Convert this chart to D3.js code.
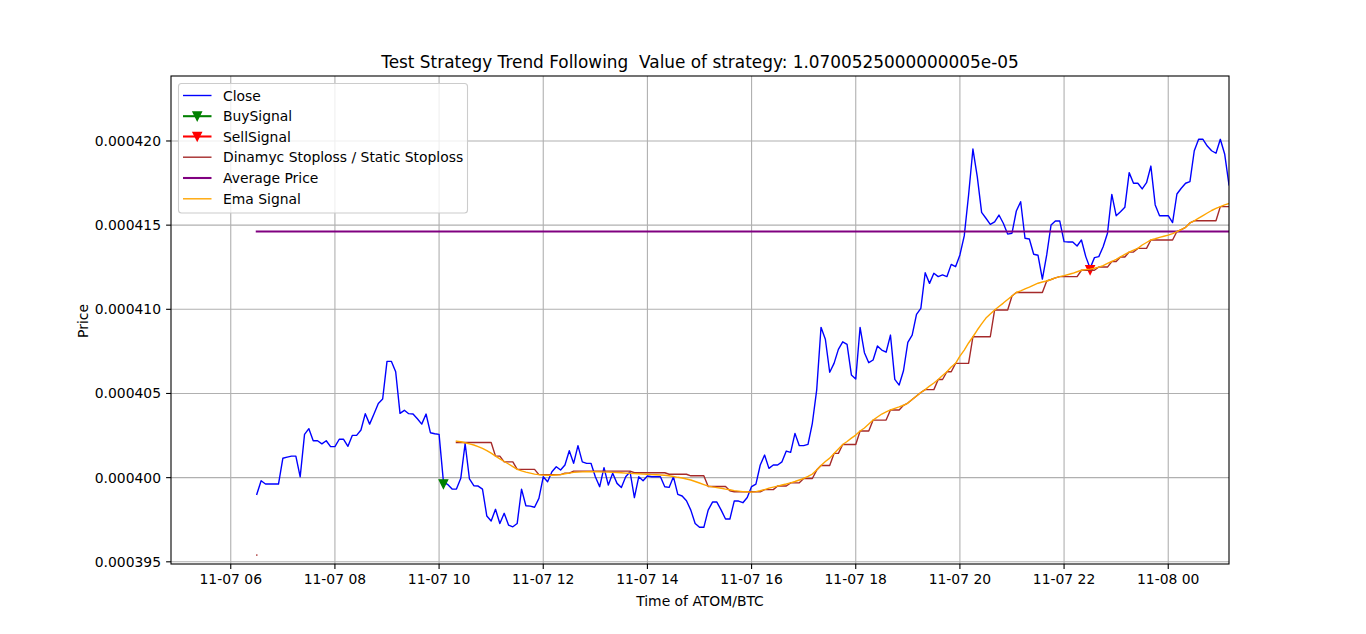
<!DOCTYPE html>
<html><head><meta charset="utf-8">
<script src="https://cdn.jsdelivr.net/npm/d3@7"></script>
<style>
body{margin:0;background:#fff;}
text{font-family:"DejaVu Sans",sans-serif;fill:#000;}
</style></head><body>
<svg id="chart" width="1366" height="634"></svg>
<script>
// ---- data (prices in units of 1e-6 BTC) ----
const startTime = Date.UTC(2019, 10, 7, 6, 30);
const stepMinutes = 5;
const close = [
 399.01, 399.82, 399.62, 399.62, 399.62, 399.62, 401.15, 401.22, 401.28, 401.28,
 400.05, 402.57, 402.91, 402.19, 402.19, 402.01, 402.19, 401.84, 401.84, 402.28,
 402.28, 401.86, 402.51, 402.51, 402.83, 403.80, 403.18, 403.78, 404.41, 404.67,
 406.91, 406.91, 406.29, 403.82, 404.00, 403.80, 403.78, 403.50, 403.18, 403.78,
 402.67, 402.61, 402.57, 399.76, 399.59, 399.32, 399.32, 399.96, 402.03, 399.92,
 399.52, 399.50, 399.32, 397.72, 397.42, 398.12, 397.28, 397.88, 397.18, 397.08,
 397.28, 399.32, 398.33, 398.31, 398.24, 398.77, 400.05, 399.76, 400.35, 400.65,
 400.45, 400.75, 401.60, 400.85, 401.90, 400.94, 400.85, 400.85, 400.05, 399.46,
 400.59, 399.56, 400.26, 399.66, 399.42, 400.05, 400.35, 398.81, 400.05, 399.82,
 400.10, 400.05, 400.05, 400.05, 399.46, 399.42, 400.05, 399.01, 398.91, 398.63,
 398.07, 397.28, 397.05, 397.05, 398.07, 398.55, 398.55, 398.07, 397.54, 397.54,
 398.61, 398.61, 398.51, 398.82, 399.47, 399.62, 400.75, 401.34, 400.55, 400.75,
 400.75, 400.94, 401.58, 401.50, 402.63, 401.90, 401.90, 401.98, 403.23, 405.20,
 408.93, 408.22, 406.26, 406.79, 407.62, 408.07, 407.92, 406.10, 405.86, 408.93,
 407.42, 406.83, 406.99, 407.82, 407.58, 407.45, 408.47, 405.84, 405.50, 406.35,
 408.03, 408.47, 409.70, 410.06, 412.17, 411.54, 412.14, 411.94, 412.04, 411.94,
 412.67, 412.53, 413.23, 414.36, 416.79, 419.52, 417.88, 415.76, 415.41, 415.05,
 415.20, 415.60, 415.11, 414.47, 414.52, 415.84, 416.39, 414.22, 414.18, 413.27,
 413.21, 411.80, 413.23, 415.01, 415.25, 415.25, 414.02, 414.00, 414.00, 413.76,
 414.12, 413.13, 412.44, 413.07, 413.13, 413.72, 414.52, 416.83, 415.56, 415.80,
 416.06, 418.12, 417.49, 417.49, 417.15, 417.52, 418.51, 416.20, 415.56, 415.56,
 415.56, 415.15, 416.85, 417.19, 417.49, 417.58, 419.42, 420.10, 420.10, 419.70,
 419.42, 419.27, 420.10, 419.23, 417.39
];
const emaStart = 46;
const ema = [
 402.17, 402.13, 402.07, 402.01, 401.94, 401.84, 401.74, 401.61, 401.46, 401.28,
 401.12, 400.96, 400.81, 400.65, 400.49, 400.40, 400.33, 400.27, 400.21, 400.18,
 400.15, 400.14, 400.14, 400.16, 400.18, 400.23, 400.27, 400.31, 400.33, 400.34,
 400.35, 400.35, 400.35, 400.34, 400.33, 400.33, 400.31, 400.30, 400.29, 400.27,
 400.26, 400.24, 400.23, 400.21, 400.20, 400.18, 400.17, 400.16, 400.14, 400.11,
 400.07, 400.02, 399.98, 399.92, 399.86, 399.77, 399.68, 399.59, 399.50, 399.45,
 399.41, 399.37, 399.32, 399.28, 399.23, 399.20, 399.17, 399.16, 399.14, 399.17,
 399.22, 399.29, 399.38, 399.44, 399.50, 399.56, 399.62, 399.69, 399.77, 399.86,
 399.95, 400.07, 400.21, 400.45, 400.72, 400.96, 401.16, 401.44, 401.70, 401.97,
 402.15, 402.35, 402.53, 402.77, 402.95, 403.19, 403.42, 403.60, 403.78, 403.90,
 404.02, 404.11, 404.20, 404.30, 404.43, 404.64, 404.85, 405.06, 405.23, 405.44,
 405.62, 405.83, 406.07, 406.29, 406.57, 406.79, 407.22, 407.58, 408.00, 408.37,
 408.77, 409.13, 409.48, 409.72, 409.96, 410.17, 410.37, 410.58, 410.79, 411.00,
 411.10, 411.21, 411.32, 411.44, 411.55, 411.62, 411.68, 411.77, 411.87, 411.94,
 412.00, 412.07, 412.14, 412.23, 412.32, 412.36, 412.39, 412.44, 412.51, 412.60,
 412.73, 412.84, 412.97, 413.11, 413.26, 413.40, 413.52, 413.62, 413.82, 413.97,
 414.12, 414.19, 414.27, 414.34, 414.41, 414.50, 414.62, 414.74, 414.87, 415.13,
 415.26, 415.42, 415.57, 415.72, 415.87, 415.99, 416.10, 416.20, 416.29
];
const stoplossStart = 46;
const stoploss = [
 402.09, 402.09, 402.09, 402.09, 402.09, 402.09, 402.09, 402.09, 402.09, 401.28,
 401.28, 400.94, 400.94, 400.94, 400.49, 400.49, 400.49, 400.49, 400.49, 400.18,
 400.18, 400.18, 400.18, 400.18, 400.18, 400.27, 400.27, 400.39, 400.39, 400.39,
 400.39, 400.39, 400.39, 400.39, 400.39, 400.39, 400.39, 400.39, 400.39, 400.39,
 400.39, 400.29, 400.29, 400.29, 400.29, 400.29, 400.29, 400.29, 400.29, 400.20,
 400.20, 400.20, 400.20, 400.20, 400.11, 400.11, 400.11, 400.11, 399.47, 399.47,
 399.47, 399.47, 399.47, 399.22, 399.16, 399.16, 399.16, 399.16, 399.16, 399.16,
 399.16, 399.29, 399.29, 399.29, 399.50, 399.50, 399.50, 399.69, 399.69, 399.69,
 399.95, 399.95, 399.95, 400.45, 400.72, 400.72, 400.72, 401.44, 401.44, 401.97,
 401.97, 401.97, 401.97, 402.77, 402.77, 402.77, 403.42, 403.42, 403.42, 403.42,
 404.02, 404.02, 404.02, 404.30, 404.43, 404.64, 404.85, 405.06, 405.23, 405.23,
 405.23, 405.83, 405.83, 406.29, 406.29, 406.79, 406.79, 406.79, 406.79, 408.37,
 408.37, 408.37, 408.37, 408.37, 409.96, 409.96, 409.96, 409.96, 410.79, 411.00,
 411.00, 411.00, 411.00, 411.00, 411.00, 411.00, 411.68, 411.77, 411.87, 411.94,
 411.94, 411.94, 411.94, 411.94, 412.32, 412.32, 412.32, 412.32, 412.51, 412.51,
 412.51, 412.84, 412.84, 413.11, 413.11, 413.40, 413.40, 413.62, 413.62, 413.62,
 414.12, 414.12, 414.12, 414.12, 414.12, 414.12, 414.62, 414.74, 414.87, 415.13,
 415.26, 415.26, 415.26, 415.26, 415.26, 415.26, 416.10, 416.10, 416.10
];
const stoplossFirstPoint = [{ index: 0, value: 395.40 }];
const buySignal = [{ index: 43, value: 399.62 }];
const sellSignal = [{ index: 192, value: 412.34 }];
const averagePrice = 414.62;

const yTicks = [395, 400, 405, 410, 415, 420];
const yTickLabels = ["0.000395", "0.000400", "0.000405", "0.000410", "0.000415", "0.000420"];
const xTicks = [
  Date.UTC(2019,10,7,6), Date.UTC(2019,10,7,8), Date.UTC(2019,10,7,10), Date.UTC(2019,10,7,12),
  Date.UTC(2019,10,7,14), Date.UTC(2019,10,7,16), Date.UTC(2019,10,7,18), Date.UTC(2019,10,7,20),
  Date.UTC(2019,10,7,22), Date.UTC(2019,10,8,0)
];
const xTickLabels = ["11-07 06","11-07 08","11-07 10","11-07 12","11-07 14","11-07 16","11-07 18","11-07 20","11-07 22","11-08 00"];

const legendItems = [
  { label: "Close", color: "#0000ff", width: 1.39, marker: false },
  { label: "BuySignal", color: "#008000", width: 2.08, marker: true },
  { label: "SellSignal", color: "#ff0000", width: 2.08, marker: true },
  { label: "Dinamyc Stoploss / Static Stoploss", color: "#a52a2a", width: 1.39, marker: false },
  { label: "Average Price", color: "#800080", width: 2.08, marker: false },
  { label: "Ema Signal", color: "#ffa500", width: 1.39, marker: false }
];

// ---- layout ----
const L = 171, R = 1229, T = 76, B = 564;
const timeOf = i => startTime + i * stepMinutes * 60000;

const svg = d3.select("#chart");
const x = d3.scaleUtc()
  .domain([Date.UTC(2019,10,7,4,51,10), Date.UTC(2019,10,8,1,10)])
  .range([L, R]);
const y = d3.scaleLinear().domain([394.87, 423.86]).range([B, T]);

// grid
const grid = svg.append("g");
grid.selectAll("line.gx").data(xTicks).enter().append("line")
  .attr("x1", d => x(d)).attr("x2", d => x(d)).attr("y1", T).attr("y2", B)
  .attr("stroke", "#b0b0b0").attr("stroke-width", 1.1);
grid.selectAll("line.gy").data(yTicks).enter().append("line")
  .attr("y1", d => y(d)).attr("y2", d => y(d)).attr("x1", L).attr("x2", R)
  .attr("stroke", "#b0b0b0").attr("stroke-width", 1.1);

svg.append("clipPath").attr("id", "clip").append("rect")
  .attr("x", L).attr("y", T).attr("width", R - L).attr("height", B - T);
const plot = svg.append("g").attr("clip-path", "url(#clip)");

const lineGen = d3.line().x(d => x(d.t)).y(d => y(d.v));

const closeData = close.map((v, i) => ({ t: timeOf(i), v }));
const emaData = ema.map((v, i) => ({ t: timeOf(i + emaStart), v }));
const slData = stoploss.map((v, i) => ({ t: timeOf(i + stoplossStart), v }));
const avgData = [{ t: timeOf(0), v: averagePrice }, { t: timeOf(close.length - 1), v: averagePrice }];

function drawLine(data, color, w) {
  plot.append("path").datum(data).attr("d", lineGen)
    .attr("fill", "none").attr("stroke", color).attr("stroke-width", w)
    .attr("stroke-linejoin", "round").attr("stroke-linecap", "square");
}
drawLine(closeData, "#0000ff", 1.39);
// markers
const tri = 4.17;
const triPath = `M${-tri},${-tri}L${tri},${-tri}L0,${tri}Z`;
function drawMarkers(sig, color) {
  plot.selectAll(null).data(sig).enter().append("path")
    .attr("d", triPath)
    .attr("transform", d => `translate(${x(timeOf(d.index))},${y(d.value)})`)
    .attr("fill", color).attr("stroke", color).attr("stroke-width", 1.39);
}
drawMarkers(buySignal, "#008000");
drawMarkers(sellSignal, "#ff0000");
drawLine(slData, "#a52a2a", 1.39);
plot.selectAll(null).data(stoplossFirstPoint).enter().append("rect")
  .attr("x", d => x(timeOf(d.index)) - 0.7).attr("y", d => y(d.value) - 0.7)
  .attr("width", 1.4).attr("height", 1.4).attr("fill", "#a52a2a");
drawLine(avgData, "#800080", 2.08);
drawLine(emaData, "#ffa500", 1.39);

// frame
svg.append("rect").attr("x", L).attr("y", T).attr("width", R - L).attr("height", B - T)
  .attr("fill", "none").attr("stroke", "#000").attr("stroke-width", 1.1);

// x ticks
const xt = svg.append("g");
xt.selectAll("line").data(xTicks).enter().append("line")
  .attr("x1", d => x(d)).attr("x2", d => x(d)).attr("y1", B).attr("y2", B + 4.9)
  .attr("stroke", "#000").attr("stroke-width", 1.1);
xt.selectAll("text").data(xTicks).enter().append("text")
  .attr("x", d => x(d)).attr("y", 584).attr("text-anchor", "middle")
  .style("font-size", "13.9px").text((d, i) => xTickLabels[i]);

// y ticks
const yt = svg.append("g");
yt.selectAll("line").data(yTicks).enter().append("line")
  .attr("x1", L - 4.9).attr("x2", L).attr("y1", d => y(d)).attr("y2", d => y(d))
  .attr("stroke", "#000").attr("stroke-width", 1.1);
yt.selectAll("text").data(yTicks).enter().append("text")
  .attr("x", 161).attr("y", d => y(d) + 5).attr("text-anchor", "end")
  .style("font-size", "13.9px").text((d, i) => yTickLabels[i]);

// labels
svg.append("text").attr("x", 700).attr("y", 606).attr("text-anchor", "middle")
  .style("font-size", "13.9px").text("Time of ATOM/BTC");
svg.append("text").attr("transform", "translate(88,321) rotate(-90)").attr("text-anchor", "middle")
  .style("font-size", "13.9px").text("Price");
svg.append("text").attr("x", 700).attr("y", 68).attr("text-anchor", "middle")
  .style("font-size", "16.9px").style("white-space", "pre")
  .text("Test Strategy Trend Following\u00a0 Value of strategy: 1.0700525000000005e-05");

// legend
const lg = svg.append("g");
lg.append("rect").attr("x", 178.5).attr("y", 83.5).attr("width", 289).attr("height", 129.5)
  .attr("rx", 3).attr("ry", 3).attr("fill", "#fff").attr("fill-opacity", 0.8)
  .attr("stroke", "#cccccc").attr("stroke-width", 1.1);
const rowY = [95.5, 116.2, 136.5, 157.2, 178, 198.8];
legendItems.forEach((it, i) => {
  const yy = rowY[i];
  lg.append("line").attr("x1", 183).attr("x2", 211.5).attr("y1", yy).attr("y2", yy)
    .attr("stroke", it.color).attr("stroke-width", it.width);
  if (it.marker) {
    lg.append("path").attr("d", triPath).attr("transform", `translate(197.2,${yy})`)
      .attr("fill", it.color).attr("stroke", it.color).attr("stroke-width", 1.39);
  }
  lg.append("text").attr("x", 223).attr("y", yy + 5).style("font-size", "13.9px").text(it.label);
});
</script>
</body></html>
